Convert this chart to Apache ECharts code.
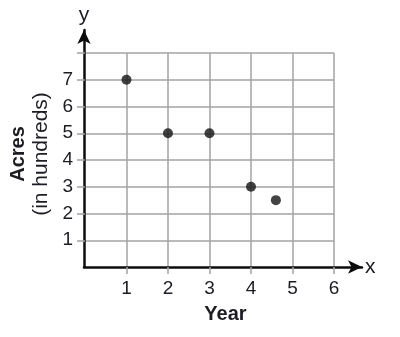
<!DOCTYPE html>
<html>
<head>
<meta charset="utf-8">
<script src="https://cdn.jsdelivr.net/npm/echarts@6/dist/echarts.min.js"></script>
<style>html,body{margin:0;padding:0;background:#fff}#c{width:400px;height:337px}</style>
</head>
<body>
<div id="c"></div>
<script>
const years = [1, 2, 3, 4, 4.6];
const acres = [7, 5, 5, 3, 2.5];
const xTickLabels = [1, 2, 3, 4, 5, 6];
const yTickLabels = [1, 2, 3, 4, 5, 6, 7];
const yGridValues = [1, 2, 3, 4, 5, 6, 7, 8];
const xName = 'Year';
const yName = 'Acres';
const ySubName = '(in hundreds)';

const FONT = "'Liberation Sans', Arial, sans-serif";
const txt = '#1c1c24';
const gridColor = '#a3a3a3';

const chart = echarts.init(document.getElementById('c'));
chart.setOption({
  animation: false,
  backgroundColor: '#fff',
  grid: [
    { left: 84, top: 53, width: 250, height: 214 },
    { left: 84, top: 30, width: 278, height: 237 }
  ],
  xAxis: [
    {
      gridIndex: 0, type: 'value', min: 0, max: 6, interval: 1,
      axisLine: { show: false },
      axisTick: { show: true, length: 7, customValues: xTickLabels, lineStyle: { color: gridColor, width: 1.5 } },
      axisLabel: { customValues: xTickLabels, margin: 12, fontSize: 19, color: txt, fontFamily: FONT },
      splitLine: { show: true, lineStyle: { color: gridColor, width: 1.5 } },
      name: xName, nameLocation: 'middle', nameGap: 37,
      nameTextStyle: { fontSize: 20, fontWeight: 'bold', color: txt, fontFamily: FONT, padding: [0, 0, 0, 32] }
    },
    {
      gridIndex: 1, type: 'value', min: 0, max: 1,
      axisLine: { show: true, symbol: ['none', 'arrow'], symbolSize: [10, 14], lineStyle: { color: '#0c0c0c', width: 2.5 } },
      axisTick: { show: false }, axisLabel: { show: false }, splitLine: { show: false },
      name: 'x', nameLocation: 'end', nameGap: 3,
      nameTextStyle: { fontSize: 21, color: txt, fontFamily: FONT, verticalAlign: 'middle' }
    }
  ],
  yAxis: [
    {
      gridIndex: 0, type: 'value', min: 0, max: 8, interval: 1,
      axisLine: { show: false },
      axisTick: { show: true, length: 8, customValues: yGridValues, lineStyle: { color: gridColor, width: 1.5 } },
      axisLabel: { customValues: yTickLabels, margin: 12, fontSize: 19, color: txt, fontFamily: FONT },
      splitLine: { show: true, lineStyle: { color: gridColor, width: 1.5 } },
      name: '{a|' + yName + '}\n{b|' + ySubName + '}',
      nameLocation: 'middle', nameRotate: 90, nameGap: 28,
      nameTextStyle: {
        align: 'center', padding: [0, 0, 0, 12],
        rich: {
          a: { fontSize: 20, fontWeight: 'bold', color: txt, fontFamily: FONT, lineHeight: 23, align: 'center' },
          b: { fontSize: 21, color: txt, fontFamily: FONT, lineHeight: 23, align: 'center' }
        }
      }
    },
    {
      gridIndex: 1, type: 'value', min: 0, max: 1,
      axisLine: { show: true, symbol: ['none', 'arrow'], symbolSize: [10, 14], lineStyle: { color: '#0c0c0c', width: 2.5 } },
      axisTick: { show: false }, axisLabel: { show: false }, splitLine: { show: false },
      name: 'y', nameLocation: 'end', nameGap: 4,
      nameTextStyle: { fontSize: 21, color: txt, fontFamily: FONT }
    }
  ],
  series: [{
    type: 'scatter', xAxisIndex: 0, yAxisIndex: 0,
    data: years.map((x, i) => [x, acres[i]]),
    symbolSize: 10,
    itemStyle: { color: '#141414' }
  }]
});
</script>
</body>
</html>
